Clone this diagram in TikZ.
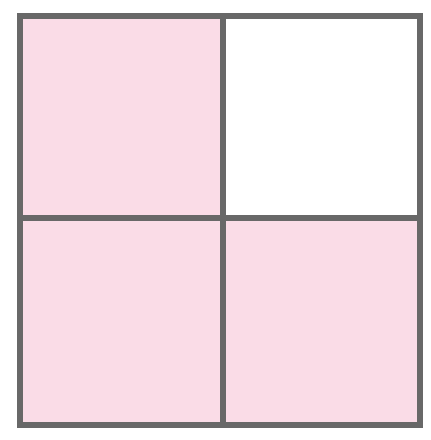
\documentclass[tikz,border=0pt]{standalone}
\definecolor{cellpink}{HTML}{FADCE7}
\definecolor{gridgray}{HTML}{686868}
\tikzset{cell/.style={fill=cellpink,draw=none},gridline/.style={draw=gridgray,line width=6.5pt}}
\begin{document}
\begin{tikzpicture}[x=1pt,y=-1pt]
\useasboundingbox (0,0) rectangle (431,440);
\fill[white] (0,0) rectangle (431,440);
\coordinate (tl) at (20,16);
\coordinate (tm) at (223,16);
\coordinate (tr) at (420,16);
\coordinate (ml) at (20,218);
\coordinate (mm) at (223,218);
\coordinate (mr) at (420,218);
\coordinate (bl) at (20,425);
\coordinate (bm) at (223,425);
\coordinate (br) at (420,425);
\path[cell] (tl) rectangle (mm);
\path[cell] (ml) rectangle (bm);
\path[cell] (mm) rectangle (br);
\draw[gridline] (tl) rectangle (br);
\draw[gridline] (tm) -- (bm);
\draw[gridline] (ml) -- (mr);
\end{tikzpicture}
\end{document}
